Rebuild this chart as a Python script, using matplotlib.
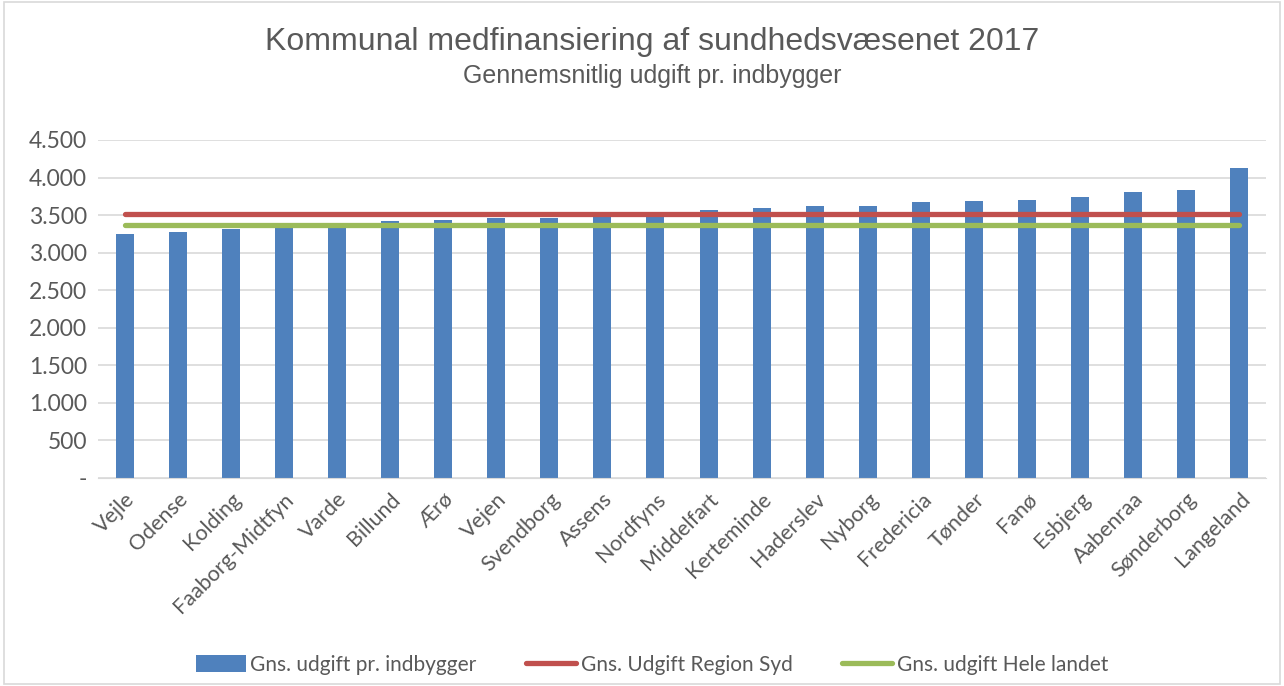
import matplotlib
matplotlib.use("Agg")
import matplotlib.pyplot as plt
from matplotlib.patches import Rectangle
from matplotlib.ticker import FuncFormatter

# ****Data****
kommuner = ["Vejle", "Odense", "Kolding", "Faaborg-Midtfyn", "Varde", "Billund", "Ærø",
            "Vejen", "Svendborg", "Assens", "Nordfyns", "Middelfart", "Kerteminde",
            "Haderslev", "Nyborg", "Fredericia", "Tønder", "Fanø", "Esbjerg",
            "Aabenraa", "Sønderborg", "Langeland"]
udgift = [3250, 3280, 3320, 3370, 3385, 3415, 3430, 3455, 3455, 3480, 3490,
          3570, 3600, 3625, 3625, 3680, 3690, 3705, 3745, 3810, 3840, 4130]
region_syd = [3510] * len(kommuner)
hele_landet = [3370] * len(kommuner)
yticks = [0, 500, 1000, 1500, 2000, 2500, 3000, 3500, 4000, 4500]

text_col = "#595959"
lbl_font = ["Lato", "DejaVu Sans"]

fig = plt.figure(figsize=(12.84, 6.86), dpi=100)
ax = fig.add_axes([98 / 1284, 1 - 478 / 686, 1168 / 1284, 338 / 686])

x = list(range(len(kommuner)))
bars = ax.bar(x, udgift, width=0.34, color="#4f81bd", zorder=2)
l1, = ax.plot(x, region_syd, color="#c0504d", lw=3.8, solid_capstyle="round", zorder=3)
l2, = ax.plot(x, hele_landet, color="#9bbb59", lw=3.8, solid_capstyle="round", zorder=3)

ax.set_xlim(-0.5, len(kommuner) - 0.5)
ax.set_ylim(0, 4500)
ax.set_yticks(yticks)
ax.yaxis.set_major_formatter(FuncFormatter(
    lambda v, p: "-" if v == 0 else "{:,.0f}".format(v).replace(",", ".")))
ax.grid(axis="y", color="#d9d9d9", lw=1.2, zorder=0)
for s in ["top", "right", "left"]:
    ax.spines[s].set_visible(False)
ax.spines["bottom"].set_color("#d9d9d9")
ax.tick_params(axis="both", length=0, colors=text_col, pad=8)
ax.set_xticks(x)
ax.set_xticklabels(kommuner, rotation=45, ha="right", rotation_mode="anchor",
                   family=lbl_font, fontsize=15.5)
for t in ax.get_yticklabels():
    t.set_family(lbl_font)
    t.set_fontsize(16.5)

fig.text(652 / 1284, 1 - 42 / 686, "Kommunal medfinansiering af sundhedsvæsenet 2017",
         ha="center", va="center", fontsize=23, color=text_col, family="Liberation Sans")
fig.text(652 / 1284, 1 - 76 / 686, "Gennemsnitlig udgift pr. indbygger",
         ha="center", va="center", fontsize=18, color=text_col, family="Liberation Sans")

fig.legend([bars, l1, l2],
           ["Gns. udgift pr. indbygger", "Gns. Udgift Region Syd", "Gns. udgift Hele landet"],
           loc="center", bbox_to_anchor=(652 / 1284, 1 - 665 / 686), ncol=3,
           frameon=False, prop={"family": lbl_font, "size": 15}, labelcolor=text_col,
           handlelength=2.4, handleheight=0.9, handletextpad=0.2, columnspacing=2.4)

fig.patches.append(Rectangle((0.003, 0.003), 0.994, 0.994, transform=fig.transFigure,
                             fill=False, edgecolor="#d9d9d9", lw=1.2))

fig.savefig("out.png", dpi=100)
